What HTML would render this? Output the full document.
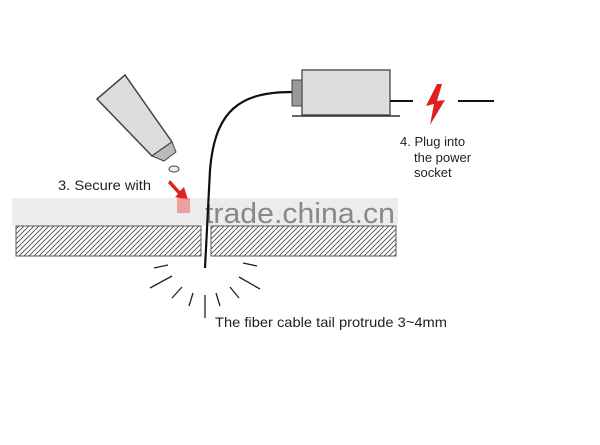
<!DOCTYPE html><html><head><style>body{margin:0;background:#fff}svg{display:block}text{font-family:"Liberation Sans",sans-serif}</style></head><body>
<svg width="600" height="445" viewBox="0 0 600 445">
<defs><pattern id="h" width="5" height="5" patternUnits="userSpaceOnUse"><path d="M0 5L5 0M-1 1L1 -1M4 6L6 4" stroke="#444" stroke-width="0.8"/></pattern></defs>
<rect x="12" y="198" width="386" height="28" fill="#ececec"/>
<rect x="16" y="226" width="185" height="30" fill="url(#h)" stroke="#555" stroke-width="1"/>
<rect x="211" y="226" width="185" height="30" fill="url(#h)" stroke="#555" stroke-width="1"/>
<text x="205" y="223" font-size="29" fill="#888" textLength="190" lengthAdjust="spacingAndGlyphs">trade.china.cn</text>
<path d="M292 92 C240 92 215 110 210 170 L205 268" fill="none" stroke="#111" stroke-width="2.2"/>
<rect x="302" y="70" width="88" height="45" fill="#ddd" stroke="#444" stroke-width="1.3"/>
<rect x="292" y="80" width="10" height="26" fill="#999" stroke="#444"/>
<line x1="292" y1="116" x2="400" y2="116" stroke="#333" stroke-width="1.5"/>
<line x1="390" y1="101" x2="413" y2="101" stroke="#111" stroke-width="2"/>
<line x1="458" y1="101" x2="494" y2="101" stroke="#111" stroke-width="2"/>
<path d="M437 84 L426 106 L434 104 L430 125 L445 100 L437 101 L442 84Z" fill="#e02020"/>
<text x="400" y="146" font-size="13" fill="#222">4. Plug into</text>
<text x="414" y="162" font-size="13" fill="#222">the power</text>
<text x="414" y="177" font-size="13" fill="#222">socket</text>
<path d="M97 99 L125 75 L172 142 L152 156Z" fill="#ddd" stroke="#444" stroke-width="1.5"/>
<path d="M152 156 L172 142 L176 152 L164 161Z" fill="#bbb" stroke="#444"/>
<ellipse cx="174" cy="169" rx="5" ry="3" fill="#eee" stroke="#444"/>
<path d="M170 180 L180 191 L184 187 L188 200 L175 197 L178 194 L168 183Z" fill="#dd2222"/>
<rect x="177" y="198" width="13" height="15" fill="#f08080" opacity="0.7"/>
<text x="58" y="190" font-size="14" fill="#222" textLength="93" lengthAdjust="spacingAndGlyphs">3. Secure with</text>
<g stroke="#222" stroke-width="1.3">
<line x1="154" y1="268" x2="168" y2="265"/><line x1="150" y1="288" x2="172" y2="276"/><line x1="172" y1="298" x2="182" y2="287"/>
<line x1="189" y1="306" x2="193" y2="293"/><line x1="205" y1="295" x2="205" y2="318"/><line x1="220" y1="306" x2="216" y2="293"/>
<line x1="239" y1="298" x2="230" y2="287"/><line x1="260" y1="289" x2="239" y2="277"/><line x1="257" y1="266" x2="243" y2="263"/>
</g>
<text x="215" y="327" font-size="14" fill="#222" textLength="232" lengthAdjust="spacingAndGlyphs">The fiber cable tail protrude 3~4mm</text>
</svg></body></html>
